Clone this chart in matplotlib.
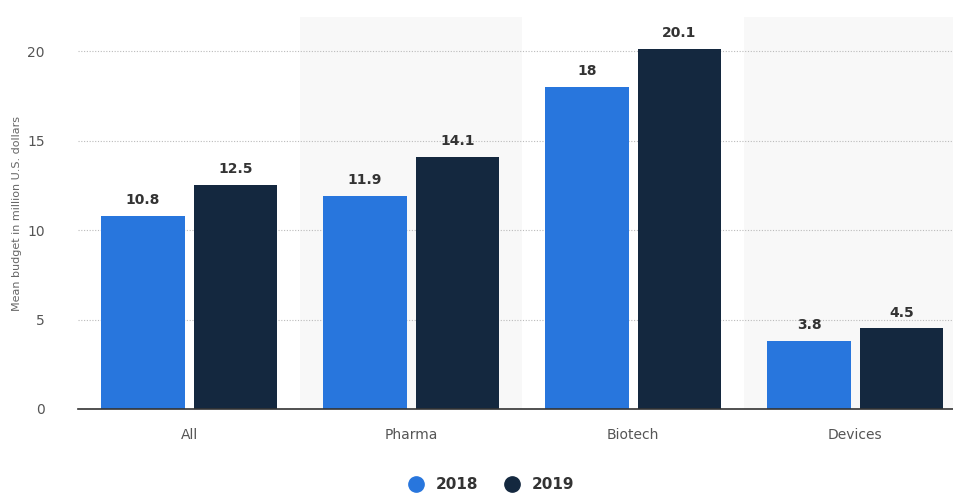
import numpy as np
import matplotlib.pyplot as plt
from matplotlib.lines import Line2D

# Datos
categories = ['All', 'Pharma', 'Biotech', 'Devices']
values_2018 = [10.8, 11.9, 18, 3.8]
values_2019 = [12.5, 14.1, 20.1, 4.5]
labels_2018 = ['10.8', '11.9', '18', '3.8']
labels_2019 = ['12.5', '14.1', '20.1', '4.5']

color_2018 = '#2876dd'
color_2019 = '#14283f'

fig = plt.figure(figsize=(9.54, 4.93), dpi=100)
ax = fig.add_axes([0.0818, 0.1704, 0.931, 0.795])

x = np.arange(len(categories))
w = 0.375
off = 0.208

# Bandas sombreadas alternas
for i in x:
    if i % 2 == 1:
        ax.axvspan(i - 0.5, i + 0.5, color='#f8f8f8', zorder=0, lw=0)

ax.bar(x - off, values_2018, w, color=color_2018, zorder=3, label='2018')
ax.bar(x + off, values_2019, w, color=color_2019, zorder=3, label='2019')

for xi, v, t in zip(x - off, values_2018, labels_2018):
    ax.text(xi, v + 0.5, t, ha='center', va='bottom', fontsize=10,
            fontweight='bold', color='#333333')
for xi, v, t in zip(x + off, values_2019, labels_2019):
    ax.text(xi, v + 0.5, t, ha='center', va='bottom', fontsize=10,
            fontweight='bold', color='#333333')

ax.set_xlim(-0.5, 3.5)
ax.set_ylim(0, 21.9)
ax.set_yticks([0, 5, 10, 15, 20])
ax.set_xticks(x)
ax.set_xticklabels(categories)
ax.tick_params(axis='both', length=0, labelsize=10, colors='#555555')
ax.tick_params(axis='x', pad=14)
ax.tick_params(axis='y', pad=24)

ax.yaxis.grid(True, linestyle=(0, (1, 1.5)), color='#bbbbbb', linewidth=0.8, zorder=1)
ax.set_axisbelow(True)

for s in ['top', 'right', 'left']:
    ax.spines[s].set_visible(False)
ax.spines['bottom'].set_color('#333333')
ax.spines['bottom'].set_linewidth(1.2)
ax.spines['bottom'].set_zorder(4)

ax.set_ylabel('Mean budget in million U.S. dollars', fontsize=8, color='#666666', labelpad=4)

# Leyenda
handles = [Line2D([], [], marker='o', ls='', markersize=11, color=color_2018),
           Line2D([], [], marker='o', ls='', markersize=11, color=color_2019)]
leg = fig.legend(handles, ['2018', '2019'], loc='center', bbox_to_anchor=(0.511, 0.017),
                 ncol=2, frameon=False, handletextpad=0.3, columnspacing=1.2,
                 prop={'weight': 'bold', 'size': 11})
for t in leg.get_texts():
    t.set_color('#333333')

plt.savefig('out.png', dpi=100)
